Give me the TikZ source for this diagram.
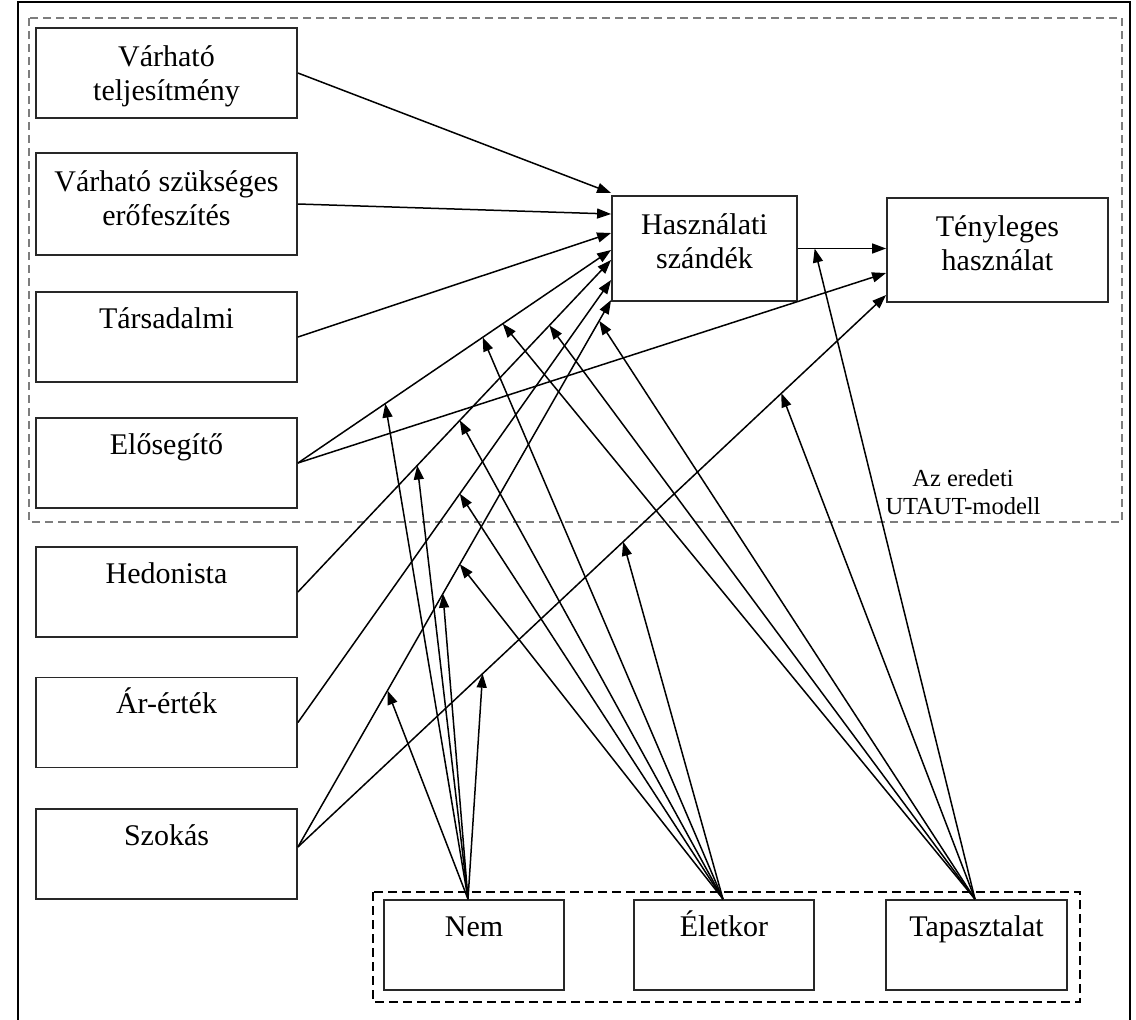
\documentclass[tikz,border=0pt]{standalone}
\usepackage{fontspec}
\setmainfont{Liberation Serif}
\usetikzlibrary{arrows.meta}

\definecolor{linecolor}{RGB}{0,0,0}
\definecolor{boxcolor}{RGB}{40,40,40}
\definecolor{utautcolor}{RGB}{125,125,125}

\tikzset{
  factor/.style={draw=boxcolor, line width=1.8pt, inner sep=0pt,
    minimum width=261pt, minimum height=90pt},
  boxtext/.style={anchor=north, align=center, inner sep=0pt, yshift=-10pt,
    font=\fontsize{30}{34}\selectfont,
    execute at begin node={\rule{0pt}{27pt}}},
  twolines/.style={boxtext, yshift=-8pt},
  link/.style={draw=linecolor, line width=1.5pt, -{Triangle[length=14pt,width=10pt]}},
}

\begin{document}
\begin{tikzpicture}[x=1pt,y=-1pt]
        \useasboundingbox (0,0) rectangle (1136,1020);

        % Outer frame and the two dashed groups
        \draw[line width=1.5pt] (18,1020) -- (18,2) -- (1130,2) -- (1130,1020);
        \draw[utautcolor, line width=2.2pt, dash pattern=on 8pt off 5pt] (29,18) rectangle (1122,522);
        \draw[line width=2pt, dash pattern=on 9pt off 5pt] (373,892) rectangle (1080,1002);

        % Left column of factors
        \node[factor, label={[twolines]north:{Várható\\teljesítmény}}] (perf) at (166.5,73) {};
        \node[factor, minimum height=102pt, label={[twolines]north:{Várható szükséges\\erőfeszítés}}] (effort) at (166.5,204) {};
        \node[factor, label={[boxtext]north:{Társadalmi}}] (social) at (166.5,337) {};
        \node[factor, label={[boxtext]north:{Elősegítő}}] (facil) at (166.5,463) {};
        \node[factor, label={[boxtext]north:{Hedonista}}] (hedon) at (166.5,592) {};
        \node[factor, label={[boxtext]north:{Ár-érték}}] (price) at (166.5,722.5) {};
        \node[factor, label={[boxtext]north:{Szokás}}] (habit) at (166.5,854) {};

        % Intention and use
        \node[factor, minimum width=185pt, minimum height=105pt, label={[twolines]north:{Használati\\szándék}}] (intent) at (704.5,248.5) {};
        \node[factor, minimum width=221pt, minimum height=104pt, label={[twolines]north:{Tényleges\\használat}}] (usage) at (997.5,250) {};

        % Moderators
        \node[factor, minimum width=180pt, label={[boxtext]north:{Nem}}] (gender) at (474,945) {};
        \node[factor, minimum width=180pt, label={[boxtext]north:{Életkor}}] (age) at (724,945) {};
        \node[factor, minimum width=181pt, label={[boxtext]north:{Tapasztalat}}] (exper) at (976.5,945) {};

        \node[align=center, inner sep=0pt, font=\fontsize{24.5}{28}\selectfont] (utaut) at (963,492) {Az eredeti\\UTAUT-modell};

        % Direct effects
        \draw[link] (perf.east) -- ([yshift=55.5pt]intent.west);
        \draw[link] (effort.east) -- ([yshift=34.5pt]intent.west);
        \draw[link] (social.east) -- ([yshift=15.5pt]intent.west);
        \draw[link] (facil.east) -- coordinate[pos=.279] (fcg) coordinate[pos=.59] (fca)
            coordinate[pos=.654] (fce) ([yshift=-1.5pt]intent.west);
        \draw[link] (facil.east) -- ([yshift=-23pt]usage.west);
        \draw[link] (hedon.east) -- coordinate[pos=.381] (hmg) coordinate[pos=.517] (hma)
            coordinate[pos=.803] (hme) ([yshift=-11.5pt]intent.west);
        \draw[link] (price.east) -- coordinate[pos=.517] (pva) ([yshift=-31.5pt]intent.west);
        \draw[link] ([yshift=7pt]habit.east) -- coordinate[pos=.286] (htg) coordinate[pos=.463] (htgb)
            coordinate[pos=.517] (hta) coordinate[pos=.962] (hte) ([yshift=-51.5pt]intent.west);
        \draw[link] ([yshift=7pt]habit.east) -- coordinate[pos=.314] (ubg) coordinate[pos=.553] (uba)
            coordinate[pos=.822] (ube) ([yshift=-45pt]usage.west);
        \draw[link] (intent.east) -- coordinate[pos=.19] (bie) (intent.east -| usage.west);

        % Moderating effects: Nem
        \draw[link] ([xshift=-6pt]gender.north) -- (fcg);
        \draw[link] ([xshift=-6pt]gender.north) -- (hmg);
        \draw[link] ([xshift=-6pt]gender.north) -- (htg);
        \draw[link] ([xshift=-6pt]gender.north) -- (htgb);
        \draw[link] ([xshift=-6pt]gender.north) -- (ubg);

        % Moderating effects: Életkor
        \draw[link] ([xshift=-1pt]age.north) -- (fca);
        \draw[link] ([xshift=-1pt]age.north) -- (hma);
        \draw[link] ([xshift=-1pt]age.north) -- (pva);
        \draw[link] ([xshift=-1pt]age.north) -- (hta);
        \draw[link] ([xshift=-1pt]age.north) -- (uba);

        % Moderating effects: Tapasztalat
        \draw[link] ([xshift=-1.5pt]exper.north) -- (fce);
        \draw[link] ([xshift=-1.5pt]exper.north) -- (hme);
        \draw[link] ([xshift=-1.5pt]exper.north) -- (hte);
        \draw[link] ([xshift=-1.5pt]exper.north) -- (ube);
        \draw[link] ([xshift=-1.5pt]exper.north) -- (bie);
\end{tikzpicture}
\end{document}
